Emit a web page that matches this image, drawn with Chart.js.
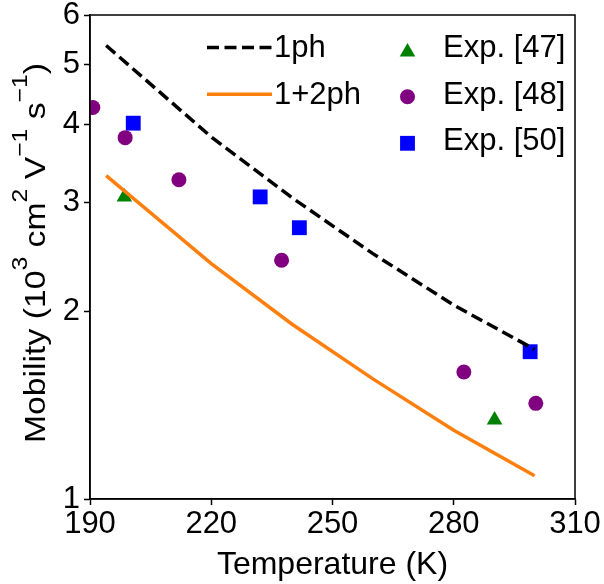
<!DOCTYPE html>
<html>
<head>
<meta charset="utf-8">
<title>Mobility vs temperature</title>
<script src="https://cdn.jsdelivr.net/npm/chart.js@4/dist/chart.umd.min.js"></script>
<style>
  html, body { margin: 0; padding: 0; background: #fff; }
  #mobChart { display: block; }
</style>
</head>
<body>
<canvas id="mobChart" width="604" height="584"></canvas>
<script>
// ── Data ───────────────────────────────────────────────────────
const theoryT   = [194, 220, 240, 260, 280, 300];
const mu1ph     = [5.36, 3.82, 3.05, 2.48, 2.05, 1.74];
const mu12ph    = [3.31, 2.39, 1.91, 1.56, 1.29, 1.09];

const exp47T  = [198.5, 290.1];
const exp47Mu = [3.06, 1.34];
const exp48T  = [190.7, 198.7, 212.0, 237.4, 282.5, 300.3];
const exp48Mu = [4.26, 3.81, 3.26, 2.42, 1.60, 1.425];
const exp50T  = [200.7, 232.1, 241.8, 298.9];
const exp50Mu = [4.02, 3.06, 2.73, 1.725];

const xTicks = [190, 220, 250, 280, 310];
const yTicks = [1, 2, 3, 4, 5, 6];

const FONT = '"Liberation Sans", Arial, Helvetica, sans-serif';

const pts = (xs, ys) => xs.map((x, i) => ({ x, y: ys[i] }));

// ── Plugins ────────────────────────────────────────────────────
// full box round the plot area
const frame = {
  id: 'frame',
  afterDatasetsDraw(chart) {
    const { ctx, chartArea: a } = chart;
    ctx.save();
    ctx.strokeStyle = '#000';
    ctx.lineWidth = 1.5;
    ctx.strokeRect(a.left, a.top, a.right - a.left, a.bottom - a.top);
    ctx.restore();
  },
};

// two-column legend in the upper right corner
const cornerLegend = {
  id: 'cornerLegend',
  afterDraw(chart) {
    const { ctx } = chart;
    const ds = chart.data.datasets;
    const rows = [47.5, 94.2, 140.8];
    ctx.save();
    ctx.font = `31px ${FONT}`;
    ctx.textBaseline = 'middle';
    ctx.fillStyle = '#000';

    // lines
    ds.filter(d => d.showLine).forEach((d, i) => {
      const y = rows[i];
      ctx.save();
      ctx.strokeStyle = d.borderColor;
      ctx.lineWidth = d.borderWidth;
      ctx.setLineDash(d.borderDash || []);
      ctx.beginPath();
      ctx.moveTo(207, y);
      ctx.lineTo(272, y);
      ctx.stroke();
      ctx.restore();
      ctx.fillText(d.label, 274, y + 1);
    });

    // markers
    ds.filter(d => !d.showLine).forEach((d, i) => {
      const y = rows[i];
      ctx.save();
      ctx.fillStyle = d.backgroundColor;
      Chart.helpers.drawPoint(ctx, {
        pointStyle: d.pointStyle, radius: d.pointRadius, rotation: 0, borderWidth: 0,
      }, 407.5, y + (d.pointStyle === 'triangle' ? 4.5 : 2.5));
      ctx.restore();
      ctx.fillText(d.label, 443, y + 1);
    });
    ctx.restore();
  },
};

// y title with superscripts
const yTitle = {
  id: 'yTitle',
  afterDraw(chart) {
    const { ctx } = chart;
    const parts = [
      ['Mobility (10', false], ['3', true], [' cm', false], ['2', true],
      [' V', false], ['\u22121', true], [' s', false], ['\u22121', true], [')', false],
    ];
    const big = `30px ${FONT}`, small = `22px ${FONT}`;
    ctx.save();
    let total = 0;
    parts.forEach(([t, sup]) => { ctx.font = sup ? small : big; total += ctx.measureText(t).width; });
    const target = 380;
    ctx.translate(45, 443);
    ctx.rotate(-Math.PI / 2);
    ctx.scale(target / total, 1);
    ctx.fillStyle = '#000';
    ctx.textBaseline = 'alphabetic';
    let x = 0;
    parts.forEach(([t, sup]) => {
      ctx.font = sup ? small : big;
      ctx.fillText(t, x, sup ? -18 : 0);
      x += ctx.measureText(t).width;
    });
    ctx.restore();
  },
};

// ── Chart ──────────────────────────────────────────────────────
const xFont = { family: FONT, size: 31, lineHeight: 1 };
const yFont = { family: FONT, size: 31, lineHeight: 0.7 };

new Chart(document.getElementById('mobChart'), {
  type: 'scatter',
  data: {
    datasets: [
      {
        label: '1ph', data: pts(theoryT, mu1ph), showLine: true,
        borderColor: '#000', borderWidth: 3.5, borderDash: [12, 5.5],
        pointRadius: 0, fill: false,
      },
      {
        label: '1+2ph', data: pts(theoryT, mu12ph), showLine: true,
        borderColor: '#ff7f0e', borderWidth: 3.5,
        pointRadius: 0, fill: false,
      },
      {
        label: 'Exp. [47]', data: pts(exp47T, exp47Mu),
        pointStyle: 'triangle', pointRadius: 9, borderWidth: 0,
        backgroundColor: '#008000', borderColor: '#008000',
      },
      {
        label: 'Exp. [48]', data: pts(exp48T, exp48Mu),
        pointStyle: 'circle', pointRadius: 7.5, borderWidth: 0,
        backgroundColor: '#800080', borderColor: '#800080',
      },
      {
        label: 'Exp. [50]', data: pts(exp50T, exp50Mu),
        pointStyle: 'rect', pointRadius: 10.5, borderWidth: 0,
        backgroundColor: '#0000ff', borderColor: '#0000ff',
      },
    ],
  },
  options: {
    responsive: false,
    devicePixelRatio: 1,
    animation: false,
    layout: { padding: { top: 15, right: 29, left: 0, bottom: 0 } },
    plugins: { legend: { display: false }, tooltip: { enabled: false } },
    elements: { point: { hoverRadius: 0 } },
    scales: {
      x: {
        type: 'linear', min: 190, max: 310,
        afterBuildTicks: s => { s.ticks = xTicks.map(v => ({ value: v })); },
        afterFit: s => { s.height = 85; s.paddingRight = 29; },
        ticks: { color: '#000', font: xFont, padding: 4, maxRotation: 0, callback: v => String(v) },
        grid: { drawOnChartArea: false, drawTicks: true, tickLength: 6, tickWidth: 1.5, tickColor: '#000' },
        border: { display: true, color: '#000', width: 1.5 },
        title: {
          display: true, text: 'Temperature (K)', color: '#000',
          font: { family: FONT, size: 32, lineHeight: 1.2 }, padding: { top: 0, bottom: 0 },
        },
      },
      y: {
        type: 'logarithmic', min: 1, max: 6,
        afterBuildTicks: s => { s.ticks = yTicks.map(v => ({ value: v })); },
        afterFit: s => { s.width = 90; },
        ticks: { color: '#000', font: yFont, padding: 4, callback: v => String(v) },
        grid: { drawOnChartArea: false, drawTicks: true, tickLength: 6, tickWidth: 1.5, tickColor: '#000' },
        border: { display: true, color: '#000', width: 1.5 },
      },
    },
  },
  plugins: [frame, cornerLegend, yTitle],
});
</script>
</body>
</html>
